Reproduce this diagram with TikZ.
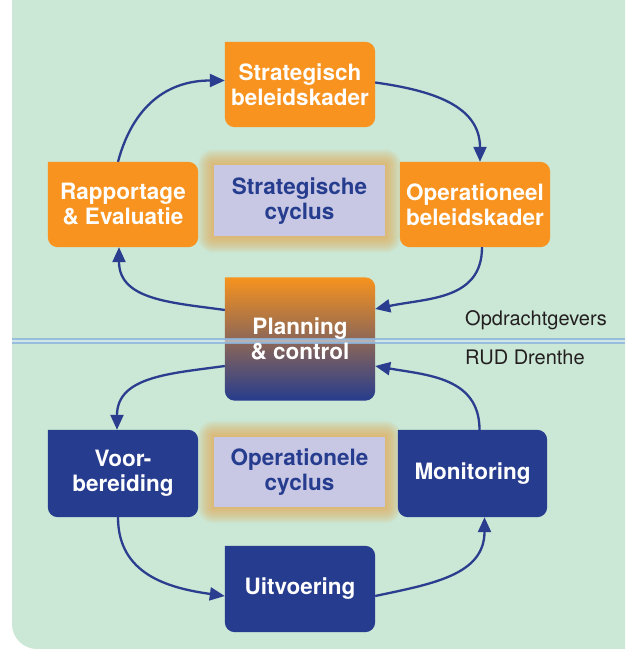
\documentclass[tikz,border=0pt]{standalone}
\usepackage{fontspec}
\setmainfont{TeX Gyre Heros}
\usetikzlibrary{arrows.meta,calc}
\definecolor{bggreen}{HTML}{CBE7D5}
\definecolor{orng}{HTML}{F7931E}
\definecolor{dblue}{HTML}{263C8E}
\definecolor{lav}{HTML}{C8C8E4}
\definecolor{arrblue}{HTML}{2B3D8F}
\definecolor{sepblue}{HTML}{8FB6DD}
\definecolor{seplight}{HTML}{D3E6F2}
\definecolor{txt}{HTML}{231F20}
\definecolor{glow}{HTML}{F0A03A}
\pgfdeclarelayer{back}\pgfdeclarelayer{mid}\pgfsetlayers{back,mid,main}
\newcommand\tlbox[2]{\path[#2] (#1.north west) -- ([xshift=-10pt]#1.north east) arc[start angle=90,end angle=0,radius=10pt] -- ([yshift=10pt]#1.south east) arc[start angle=0,end angle=-90,radius=10pt] -- ([xshift=10pt]#1.south west) arc[start angle=270,end angle=180,radius=10pt] -- cycle;}
\newcommand\glowbox[1]{\foreach \i in {1,...,16}{\pgfmathsetmacro\dd{1.0*\i}\fill[glow,opacity=0.05,rounded corners=\dd pt] ([shift={(-\dd pt,-\dd pt)}]#1.south west) rectangle ([shift={(\dd pt,\dd pt)}]#1.north east);}}
\tikzset{
  box/.style={minimum width=150pt,minimum height=85pt,inner sep=0pt,align=center,text=white,font=\bfseries\fontsize{22.5}{25}\selectfont},
  lbl/.style={minimum width=171pt,minimum height=71pt,inner sep=0pt,align=center,fill=lav,text=dblue,font=\bfseries\fontsize{22.5}{25}\selectfont},
  side/.style={anchor=base west,inner sep=0pt,text=txt,font=\fontsize{20}{24}\selectfont},
  conn/.style={draw=arrblue,line width=2.3pt,-{Triangle[length=15pt,width=13pt]}}
}
\begin{document}
\begin{tikzpicture}[x=1pt,y=1pt]
\useasboundingbox (0,0) rectangle (625,650);
\begin{pgfonlayer}{back}
\fill[bggreen] (12,650) -- (625,650) -- (625,1) -- (37,1) arc[start angle=270,end angle=180,radius=25] -- cycle;
\end{pgfonlayer}
% nodes
\node[box] (S) at (300,565.5) {Strategisch\\beleidskader};
\node[box] (R) at (123,445.5) {Rapportage\\\& Evaluatie};
\node[box] (O) at (475,445.5) {Operationeel\\beleidskader};
\node[box,minimum height=123pt] (P) at (300,311) {Planning\\\& control};
\node[box,minimum height=87pt] (V) at (123,176.5) {Voor-\\bereiding};
\node[box,minimum height=87pt,minimum width=149pt] (M) at (472.5,176.5) {Monitoring};
\node[box,minimum height=86pt] (U) at (300,61) {Uitvoering};
\node[lbl] (SC) at (299.5,449) {Strategische\\cyclus};
\node[lbl,minimum height=70pt] (OC) at (299.5,178) {Operationele\\cyclus};
\node[side] (OG) at (465,324) {Opdrachtgevers};
\node[side] (RD) at (465,285) {RUD Drenthe};
\begin{pgfonlayer}{mid}
\glowbox{SC}
\glowbox{OC}
\tlbox{S}{fill=orng}
\tlbox{R}{fill=orng}
\tlbox{O}{fill=orng}
\tlbox{P}{top color=orng,bottom color=dblue}
\tlbox{V}{fill=dblue}
\tlbox{M}{fill=dblue}
\tlbox{U}{fill=dblue}
\fill[seplight,opacity=0.6] (12,306.7) rectangle (625,310.7);
\draw[sepblue,line width=1.7pt,opacity=0.85] (12,310.7) -- (625,310.7);
\draw[sepblue,line width=1.7pt,opacity=0.85] (12,306.7) -- (625,306.7);
\end{pgfonlayer}
% connectors
\draw[conn] ([xshift=-5pt]R.north) to[out=75,in=180,looseness=1.1] ([yshift=4pt]S.west);
\draw[conn] ([yshift=2pt]S.east) to[out=-8,in=90,looseness=1.1] ([xshift=5pt]O.north);
\draw[conn] ([xshift=7pt]O.south) to[out=-90,in=12,looseness=1.1] ([yshift=30pt]P.east);
\draw[conn] ([yshift=29pt]P.west) to[out=172,in=-90,looseness=1.1] ([xshift=-4pt]R.south);
\draw[conn] ([yshift=-27pt]P.west) to[out=188,in=90,looseness=1.1] ([xshift=-6pt]V.north);
\draw[conn] ([xshift=-5pt]V.south) to[out=-90,in=172,looseness=1.1] ([yshift=-7pt]U.west);
\draw[conn] ([yshift=-7pt]U.east) to[out=12,in=-90,looseness=1.1] ([xshift=12pt]M.south);
\draw[conn] ([xshift=7pt]M.north) to[out=90,in=-10,looseness=1.1] ([yshift=-27pt]P.east);
\end{tikzpicture}
\end{document}
